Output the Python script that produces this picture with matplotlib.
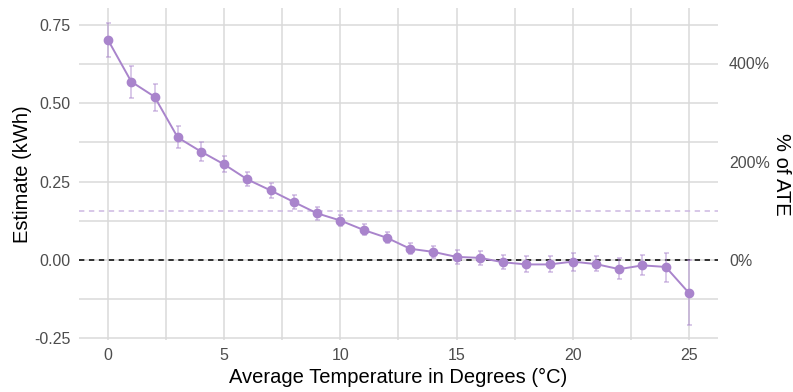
import matplotlib
matplotlib.use("Agg")
import matplotlib.pyplot as plt
import numpy as np
from matplotlib.ticker import FuncFormatter, MultipleLocator

plt.rcParams["font.family"] = ["Liberation Sans", "DejaVu Sans"]

PURPLE = "#a984cc"
GRID = "#dadada"
TICK = "#4d4d4d"

ATE = 0.157

temps = np.arange(0, 26)
estimate = [0.702, 0.569, 0.521, 0.391, 0.346, 0.305, 0.257, 0.222, 0.185, 0.149,
            0.126, 0.096, 0.071, 0.036, 0.026, 0.010, 0.007, -0.007, -0.014, -0.014,
            -0.005, -0.013, -0.029, -0.017, -0.022, -0.105]
ci_low = [0.648, 0.518, 0.477, 0.356, 0.315, 0.280, 0.235, 0.198, 0.162, 0.127,
          0.109, 0.080, 0.054, 0.018, 0.006, -0.012, -0.016, -0.029, -0.037, -0.037,
          -0.035, -0.035, -0.062, -0.048, -0.069, -0.207]
ci_high = [0.756, 0.620, 0.562, 0.426, 0.378, 0.333, 0.280, 0.245, 0.208, 0.170,
           0.143, 0.114, 0.089, 0.054, 0.045, 0.031, 0.030, 0.016, 0.012, 0.012,
           0.024, 0.012, 0.006, 0.015, 0.024, 0.000]

est = np.array(estimate)
yerr = np.vstack([est - np.array(ci_low), np.array(ci_high) - est])

fig = plt.figure(figsize=(7.93, 3.92), dpi=100)
ax = fig.add_axes([0.0996, 0.1327, 0.8058, 0.8469])

ax.set_xlim(-1.25, 26.25)
ax.set_ylim(-0.255, 0.804)

ax.xaxis.set_major_locator(MultipleLocator(5))
ax.xaxis.set_minor_locator(MultipleLocator(2.5))
ax.yaxis.set_major_locator(MultipleLocator(0.25))
ax.yaxis.set_minor_locator(MultipleLocator(0.125))
ax.grid(which="both", color=GRID, linewidth=1.1, zorder=0)
ax.set_axisbelow(True)
for s in ax.spines.values():
    s.set_visible(False)
ax.tick_params(which="both", length=0, labelsize=11.5, colors=TICK, pad=6)
ax.yaxis.set_major_formatter(FuncFormatter(lambda v, p: f"{v:.2f}"))

ax.axhline(0, color="black", linestyle=(0, (3.5, 3)), linewidth=1.1, zorder=2)
ax.axhline(ATE, color="#cdb8e2", linestyle=(0, (3.5, 3)), linewidth=1.1, zorder=2)

ax.errorbar(temps, est, yerr=yerr, fmt="none", ecolor=PURPLE, alpha=0.55,
            elinewidth=1.1, capsize=1.8, capthick=1.1, zorder=3)
ax.plot(temps, est, color=PURPLE, linewidth=1.4, marker="o", markersize=6, zorder=4)

ax.set_xlabel("Average Temperature in Degrees (°C)", fontsize=14.5, labelpad=3)
ax.set_ylabel("Estimate (kWh)", fontsize=14.5, va="center")
ax.yaxis.set_label_coords(-0.089, 0.5)

sec = ax.secondary_yaxis("right", functions=(lambda y: y / ATE * 100, lambda p: p * ATE / 100))
sec.set_yticks([0, 200, 400])
sec.yaxis.set_major_formatter(FuncFormatter(lambda v, p: f"{v:.0f}%"))
sec.tick_params(length=0, labelsize=11.5, colors=TICK, pad=8)
for s in sec.spines.values():
    s.set_visible(False)
sec.set_ylabel("% of ATE", fontsize=14.5, rotation=270, va="center", ha="center")
sec.yaxis.set_label_coords(1.100, 0.5, transform=ax.transAxes)

fig.savefig("out.png", dpi=100, facecolor="white")
